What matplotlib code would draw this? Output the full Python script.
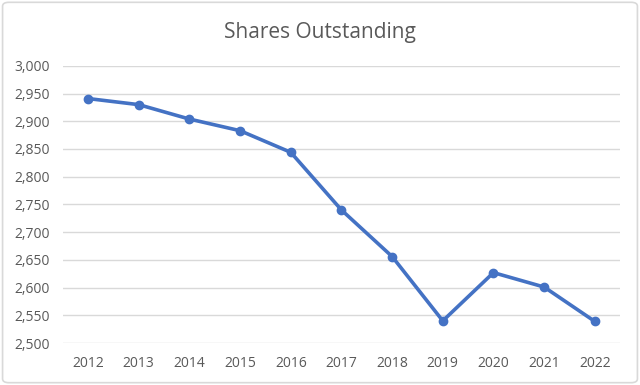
import matplotlib
matplotlib.use("Agg")
import matplotlib.pyplot as plt
from matplotlib.patches import FancyBboxPatch

years = ["2012", "2013", "2014", "2015", "2016", "2017", "2018", "2019", "2020", "2021", "2022"]
shares = [2941, 2930, 2904, 2883, 2844, 2740, 2656, 2540, 2627, 2601, 2539]
yticks = [2500, 2550, 2600, 2650, 2700, 2750, 2800, 2850, 2900, 2950, 3000]
title = "Shares Outstanding"

plt.rcParams['font.family'] = ['Open Sans', 'DejaVu Sans']
fig = plt.figure(figsize=(6.4, 3.85), dpi=100)
ax = fig.add_axes([0.098, 0.109, 0.871, 0.720])

x = list(range(len(years)))
ax.plot(x, shares, color="#4472C4", linewidth=2.6, marker="o", markersize=6,
        markerfacecolor="#4472C4", markeredgecolor="#4472C4", zorder=3)

ax.set_xlim(-0.5, len(years) - 0.5)
ax.set_ylim(2500, 3000)
ax.set_yticks(yticks)
ax.set_yticklabels([f"{v:,}" for v in yticks])
ax.set_xticks(x)
ax.set_xticklabels(years)
ax.tick_params(axis="both", length=0, colors="#595959", labelsize=10)
ax.tick_params(axis="y", pad=9)
ax.tick_params(axis="x", pad=9)
ax.grid(axis="y", color="#d9d9d9", linewidth=1)
ax.set_axisbelow(True)
for s in ax.spines.values():
    s.set_visible(False)

fig.text(0.5, 0.916, title, ha="center", va="center", fontsize=15, color="#595959")

border = FancyBboxPatch((0.004, 0.006), 0.992, 0.988, boxstyle="round,pad=0,rounding_size=0.01",
                        transform=fig.transFigure, facecolor="none", edgecolor="#d9d9d9", linewidth=1.2)
fig.patches.append(border)

fig.savefig("out.png", dpi=100)
